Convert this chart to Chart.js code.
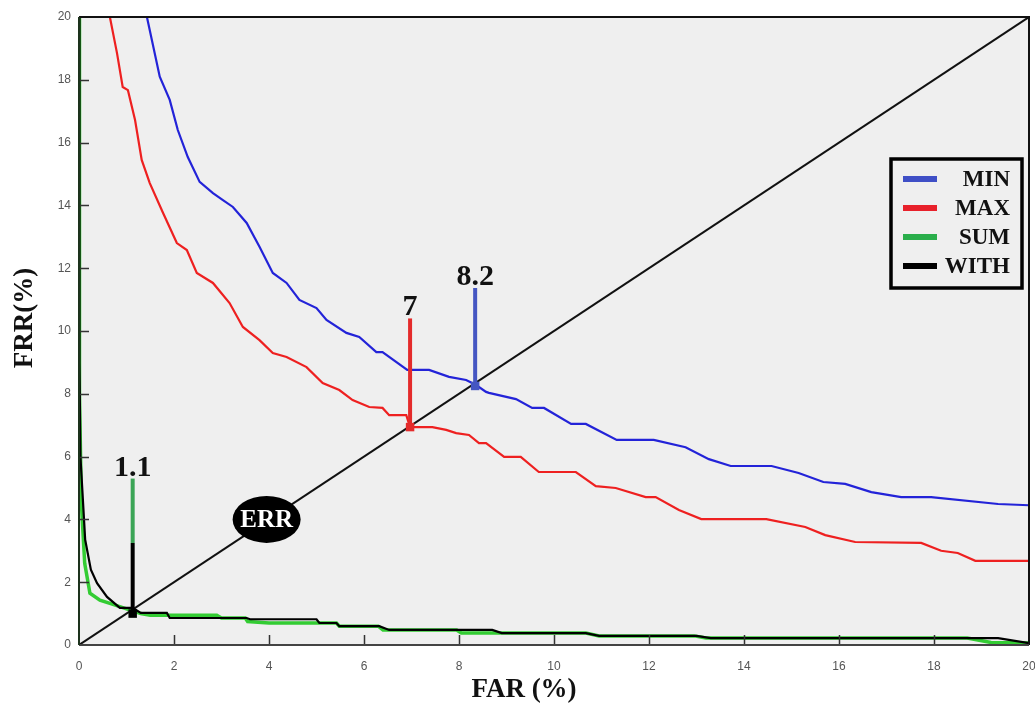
<!DOCTYPE html>
<html>
<head>
<meta charset="utf-8">
<script src="https://cdn.jsdelivr.net/npm/chart.js@4.4.0/dist/chart.umd.min.js"></script>
<style>
    html, body { margin: 0; padding: 0; background: #fff; }
    #wrap { width: 1035px; height: 706px; }
</style>
</head>
<body>
<div id="wrap"><canvas id="det" width="1035" height="706"></canvas></div>
<script>
// FAR / FRR curves (both in %)
const minFar = [1.43, 1.7, 1.91, 2.08, 2.29, 2.54, 2.82, 3.03, 3.24, 3.53, 3.8, 4.08, 4.37, 4.64, 5.0, 5.21, 5.63, 5.9, 6.26, 6.39, 6.91, 7.37, 7.79, 8.15, 8.36, 8.57, 8.63, 9.2, 9.54, 9.79, 10.36, 10.67, 11.32, 12.1, 12.77, 13.26, 13.72, 14.58, 15.15, 15.67, 16.13, 16.68, 17.31, 17.94, 19.35, 20];
const minFrr = [20, 18.1, 17.36, 16.4, 15.54, 14.75, 14.39, 14.17, 13.95, 13.44, 12.68, 11.85, 11.53, 10.99, 10.73, 10.35, 9.94, 9.81, 9.33, 9.33, 8.76, 8.76, 8.54, 8.44, 8.28, 8.06, 8.03, 7.83, 7.55, 7.55, 7.04, 7.04, 6.53, 6.53, 6.3, 5.92, 5.7, 5.7, 5.48, 5.19, 5.13, 4.87, 4.71, 4.71, 4.49, 4.45];

const maxFar = [0.65, 0.8, 0.92, 1.03, 1.18, 1.32, 1.49, 1.77, 2.06, 2.27, 2.48, 2.82, 3.17, 3.45, 3.8, 4.08, 4.37, 4.79, 5.13, 5.48, 5.76, 6.11, 6.39, 6.53, 6.89, 6.97, 7.23, 7.44, 7.73, 7.94, 8.21, 8.42, 8.57, 8.95, 9.3, 9.68, 10.46, 10.88, 11.3, 11.93, 12.14, 12.63, 13.1, 14.47, 15.29, 15.71, 16.34, 17.73, 18.15, 18.5, 18.87, 20];
const maxFrr = [20, 18.85, 17.77, 17.67, 16.72, 15.45, 14.71, 13.76, 12.8, 12.58, 11.85, 11.53, 10.89, 10.13, 9.71, 9.3, 9.17, 8.85, 8.34, 8.12, 7.8, 7.58, 7.55, 7.32, 7.32, 6.94, 6.94, 6.94, 6.85, 6.75, 6.69, 6.43, 6.43, 5.99, 5.99, 5.51, 5.51, 5.06, 5.0, 4.71, 4.71, 4.3, 4.01, 4.01, 3.76, 3.5, 3.28, 3.25, 3.0, 2.93, 2.68, 2.68];

const sumFar = [0, 0.01, 0.05, 0.12, 0.23, 0.44, 0.7, 1.0, 1.3, 1.5, 2.9, 3.0, 3.5, 3.55, 4.0, 4.85, 5.06, 5.42, 5.48, 6.3, 6.4, 7.95, 8.05, 10.67, 10.95, 12.95, 13.2, 18.7, 19.2, 20];
const sumFrr = [20, 8, 4.5, 2.6, 1.65, 1.43, 1.3, 1.15, 1.0, 0.95, 0.95, 0.86, 0.86, 0.75, 0.7, 0.7, 0.7, 0.7, 0.6, 0.6, 0.48, 0.48, 0.38, 0.38, 0.29, 0.29, 0.22, 0.22, 0.08, 0.06];

const withFar = [0, 0.01, 0.03, 0.13, 0.25, 0.38, 0.59, 0.86, 1.13, 1.3, 1.85, 1.91, 3.53, 3.6, 5.0, 5.06, 5.42, 5.48, 6.32, 6.53, 8.7, 8.9, 10.67, 10.95, 13.0, 13.3, 19.35, 20];
const withFrr = [20, 9, 6, 3.35, 2.4, 1.97, 1.53, 1.18, 1.18, 1.02, 1.02, 0.86, 0.86, 0.82, 0.82, 0.7, 0.7, 0.6, 0.6, 0.48, 0.48, 0.38, 0.38, 0.29, 0.29, 0.22, 0.22, 0.06];

// FAR = FRR reference line
const diagFar = [0, 20];
const diagFrr = [0, 20];

// vertical markers at the equal error points
const stemFar = [1.13, 1.13, 6.97, 8.34];
const stemLow = [1.0, 3.25, 6.94, 8.25];
const stemHigh = [3.25, 5.3, 10.4, 11.37];
const stemColors = ['#000000', '#3ba556', '#e42b2b', '#4556c2'];
const stemMarker = [true, false, true, true];

const eerLabels = ['1.1', '7', '8.2'];
const eerFar = [1.13, 6.97, 8.34];
const eerTop = [5.3, 10.4, 11.37];

const errFar = 3.95;
const errFrr = 4.0;

const seriesNames = ['MIN', 'MAX', 'SUM', 'WITH'];
const seriesColors = ['#2323d8', '#ee2020', '#33cc33', '#000000'];
const legendColors = ['#3f4fc6', '#e8212b', '#2aae4b', '#000000'];

const xTicks = [0, 2, 4, 6, 8, 10, 12, 14, 16, 18, 20];
const yTicks = [0, 2, 4, 6, 8, 10, 12, 14, 16, 18, 20];

const toPoints = (xs, ys) => xs.map((x, i) => ({ x: x, y: ys[i] }));

function curve(xs, ys, color, width, order) {
    return {
        data: toPoints(xs, ys),
        showLine: true,
        borderColor: color,
        borderWidth: width,
        pointRadius: 0,
        tension: 0,
        order: order
    };
}

const datasets = [
    curve(diagFar, diagFrr, '#111111', 2, 20),
    curve(sumFar, sumFrr, seriesColors[2], 3.5, 19),
    curve(withFar, withFrr, seriesColors[3], 2.2, 18),
    curve(maxFar, maxFrr, seriesColors[1], 2.2, 17),
    curve(minFar, minFrr, seriesColors[0], 2.2, 16)
];

stemFar.forEach((x, i) => {
    datasets.push({
        data: [{ x: x, y: stemLow[i] }, { x: x, y: stemHigh[i] }],
        showLine: true,
        borderColor: stemColors[i],
        backgroundColor: stemColors[i],
        borderWidth: 4,
        pointStyle: 'rect',
        pointRadius: stemMarker[i] ? [6, 0] : 0,
        pointBorderWidth: 0,
        order: 5 - (i === 0 ? 1 : 0)
    });
});

// background, inward tick marks, frame, ERR badge, value labels, legend
const decorPlugin = {
    id: 'decor',
    beforeDatasetsDraw(chart) {
        const { ctx, chartArea: a } = chart;
        ctx.save();
        ctx.fillStyle = '#efefef';
        ctx.fillRect(a.left, a.top, a.right - a.left, a.bottom - a.top);
        ctx.restore();
    },
    afterDatasetsDraw(chart) {
        const { ctx, chartArea: a, scales } = chart;
        const xs = scales.x, ys = scales.y;
        ctx.save();

        // tick marks pointing into the plot
        ctx.strokeStyle = '#333';
        ctx.lineWidth = 1.5;
        ctx.beginPath();
        xTicks.slice(1, -1).forEach(v => {
            const px = Math.round(xs.getPixelForValue(v)) + 0.5;
            ctx.moveTo(px, a.bottom);
            ctx.lineTo(px, a.bottom - 10);
        });
        yTicks.slice(1, -1).forEach(v => {
            const py = Math.round(ys.getPixelForValue(v)) + 0.5;
            ctx.moveTo(a.left, py);
            ctx.lineTo(a.left + 10, py);
        });
        ctx.stroke();

        // frame
        ctx.lineWidth = 2;
        ctx.strokeStyle = '#111';
        ctx.beginPath();
        ctx.moveTo(a.left, a.top);
        ctx.lineTo(a.right, a.top);
        ctx.lineTo(a.right, a.bottom);
        ctx.stroke();
        ctx.strokeStyle = '#444';
        ctx.beginPath();
        ctx.moveTo(a.left, a.bottom);
        ctx.lineTo(a.right, a.bottom);
        ctx.stroke();
        ctx.strokeStyle = '#1d331d';
        ctx.beginPath();
        ctx.moveTo(a.left, a.top);
        ctx.lineTo(a.left, a.bottom);
        ctx.stroke();

        // ERR badge on the diagonal
        const ex = xs.getPixelForValue(errFar);
        const ey = ys.getPixelForValue(errFrr);
        ctx.fillStyle = '#000';
        ctx.beginPath();
        ctx.ellipse(ex, ey, 34, 23.5, 0, 0, Math.PI * 2);
        ctx.fill();
        ctx.fillStyle = '#fff';
        ctx.font = 'bold 25px "Liberation Serif"';
        ctx.textAlign = 'center';
        ctx.textBaseline = 'middle';
        ctx.fillText('ERR', ex, ey + 1);

        // EER value labels
        ctx.fillStyle = '#111';
        ctx.font = 'bold 30px "Liberation Serif"';
        ctx.textBaseline = 'alphabetic';
        eerLabels.forEach((t, i) => {
            const px = xs.getPixelForValue(eerFar[i]);
            const py = ys.getPixelForValue(eerTop[i]);
            ctx.fillText(t, px, py - 3);
        });

        // legend box
        const lx = 891, ly = 159, lw = 131, lh = 129;
        ctx.fillStyle = '#efefef';
        ctx.fillRect(lx, ly, lw, lh);
        ctx.strokeStyle = '#000';
        ctx.lineWidth = 3.5;
        ctx.strokeRect(lx, ly, lw, lh);
        ctx.font = 'bold 23px "Liberation Serif"';
        ctx.textAlign = 'right';
        ctx.textBaseline = 'middle';
        seriesNames.forEach((name, i) => {
            const ry = 179 + i * 29;
            ctx.fillStyle = legendColors[i];
            ctx.fillRect(903, ry - 3, 34, 6);
            ctx.fillStyle = '#111';
            ctx.fillText(name, 1010, ry + 1);
        });

        // axis titles
        ctx.fillStyle = '#111';
        ctx.font = 'bold 27px "Liberation Serif"';
        ctx.textAlign = 'center';
        ctx.textBaseline = 'alphabetic';
        ctx.fillText('FAR (%)', 524, 697);
        ctx.translate(32, 318);
        ctx.rotate(-Math.PI / 2);
        ctx.fillText('FRR(%)', 0, 0);

        ctx.restore();
    }
};

const tickFont = { family: '"Liberation Sans", Arial, sans-serif', size: 12 };

new Chart(document.getElementById('det'), {
    type: 'scatter',
    data: { datasets: datasets },
    options: {
        responsive: false,
        animation: false,
        devicePixelRatio: 1,
        layout: { padding: { left: 0, top: 17, right: 4, bottom: 0 } },
        plugins: {
            legend: { display: false },
            tooltip: { enabled: false }
        },
        scales: {
            x: {
                type: 'linear',
                min: 0,
                max: 20,
                afterBuildTicks: s => { s.ticks = xTicks.map(v => ({ value: v })); },
                afterFit: s => { s.height = 61; s.paddingLeft = 0; s.paddingRight = 0; },
                ticks: { color: '#555', font: tickFont, padding: 14, maxRotation: 0, autoSkip: false },
                grid: { display: false, drawTicks: false },
                border: { display: false }
            },
            y: {
                type: 'linear',
                min: 0,
                max: 20,
                afterBuildTicks: s => { s.ticks = yTicks.map(v => ({ value: v })); },
                afterFit: s => { s.width = 79; },
                ticks: { color: '#555', font: tickFont, padding: 8, autoSkip: false },
                grid: { display: false, drawTicks: false },
                border: { display: false }
            }
        }
    },
    plugins: [decorPlugin]
});
</script>
</body>
</html>
